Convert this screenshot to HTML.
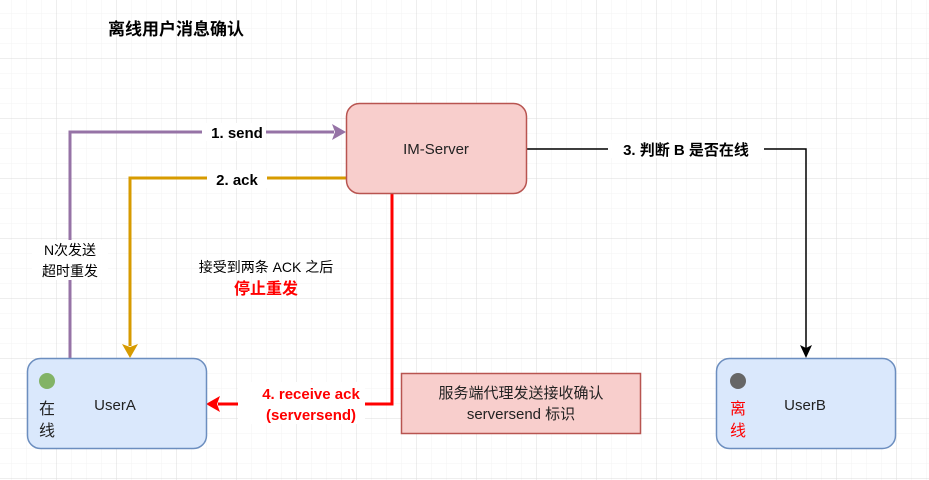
<!DOCTYPE html>
<html><head><meta charset="utf-8"><style>
body{margin:0;width:929px;height:480px;overflow:hidden;background:#fff;font-family:"Liberation Sans","Noto Sans CJK SC",sans-serif;}
</style></head><body>
<svg width="929" height="480" xmlns="http://www.w3.org/2000/svg" style="position:absolute;left:0;top:0;font-family:'Liberation Sans','Noto Sans CJK SC',sans-serif">
<defs>
<pattern id="minor" x="11" y="13" width="15" height="15" patternUnits="userSpaceOnUse"><path d="M15 0H0V15" fill="none" stroke="#f3f3f3" stroke-width="1"/></pattern>
<pattern id="major" x="56" y="58" width="60" height="60" patternUnits="userSpaceOnUse"><path d="M60 0H0V60" fill="none" stroke="#dcdcdc" stroke-width="1"/></pattern>
</defs>
<rect width="929" height="480" fill="url(#minor)"/>
<rect width="929" height="480" fill="url(#major)"/>
<text x="108" y="35" font-size="17" font-weight="bold" fill="#000">离线用户消息确认</text>

<!-- purple -->
<path d="M70 358V132H334" fill="none" stroke="#9673a6" stroke-width="3"/>
<path d="M346 132L332 124L335 132L332 140Z" fill="#9673a6"/>
<rect x="202" y="123" width="64" height="18" fill="#fff"/>
<text x="237" y="138" font-size="15" font-weight="bold" text-anchor="middle">1. send</text>
<rect x="32" y="240" width="76" height="40" fill="#fff"/>
<text x="70" y="255" font-size="14" text-anchor="middle">N次发送</text>
<text x="70" y="276" font-size="14" text-anchor="middle">超时重发</text>

<!-- orange -->
<path d="M346 178H130V346" fill="none" stroke="#d79b00" stroke-width="3"/>
<path d="M130 358L122 344L130 347L138 344Z" fill="#d79b00"/>
<rect x="207" y="170" width="60" height="18" fill="#fff"/>
<text x="237" y="185" font-size="15" font-weight="bold" text-anchor="middle">2. ack</text>

<!-- black -->
<path d="M526 149H806V348" fill="none" stroke="#000" stroke-width="1.5"/>
<path d="M806 358L800 345L806 348L812 345Z" fill="#000"/>
<rect x="608" y="140" width="156" height="18" fill="#fff"/>
<text x="686" y="155" font-size="15" font-weight="bold" text-anchor="middle">3. 判断 B 是否在线</text>

<!-- red -->
<path d="M392 193V404H218" fill="none" stroke="#ff0000" stroke-width="3"/>
<path d="M206 404L220 396L217 404L220 412Z" fill="#ff0000"/>
<rect x="238" y="382" width="127" height="42" fill="#fff"/>
<text x="311" y="399" font-size="15" font-weight="bold" fill="#ff0000" text-anchor="middle">4. receive ack</text>
<text x="311" y="420" font-size="15" font-weight="bold" fill="#ff0000" text-anchor="middle">(serversend)</text>

<text x="266" y="272" font-size="14" text-anchor="middle">接受到两条 ACK 之后</text>
<text x="266" y="294" font-size="16" font-weight="bold" fill="#ff0000" text-anchor="middle">停止重发</text>

<!-- IM-Server -->
<rect x="346.5" y="103.5" width="180" height="90" rx="13" fill="#f8cecc" stroke="#b85450" stroke-width="1.5"/>
<text x="436" y="154" font-size="15" text-anchor="middle" fill="#222">IM-Server</text>

<!-- note -->
<rect x="401.5" y="373.5" width="239" height="60" fill="#f8cecc" stroke="#b85450" stroke-width="1.5"/>
<text x="521" y="398" font-size="15" text-anchor="middle" fill="#222">服务端代理发送接收确认</text>
<text x="521" y="419" font-size="15" text-anchor="middle" fill="#222">serversend 标识</text>

<!-- UserA -->
<rect x="27.5" y="358.5" width="179" height="90" rx="13" fill="#dae8fc" stroke="#6c8ebf" stroke-width="1.5"/>
<circle cx="47" cy="381" r="8" fill="#82b366"/>
<text x="39" y="414" font-size="16" fill="#222">在</text>
<text x="39" y="436" font-size="16" fill="#222">线</text>
<text x="115" y="410" font-size="15" text-anchor="middle" fill="#222">UserA</text>

<!-- UserB -->
<rect x="716.5" y="358.5" width="179" height="90" rx="13" fill="#dae8fc" stroke="#6c8ebf" stroke-width="1.5"/>
<circle cx="738" cy="381" r="8" fill="#666"/>
<text x="730" y="414" font-size="16" fill="#ff0000">离</text>
<text x="730" y="436" font-size="16" fill="#ff0000">线</text>
<text x="805" y="410" font-size="15" text-anchor="middle" fill="#222">UserB</text>
</svg>
</body></html>
